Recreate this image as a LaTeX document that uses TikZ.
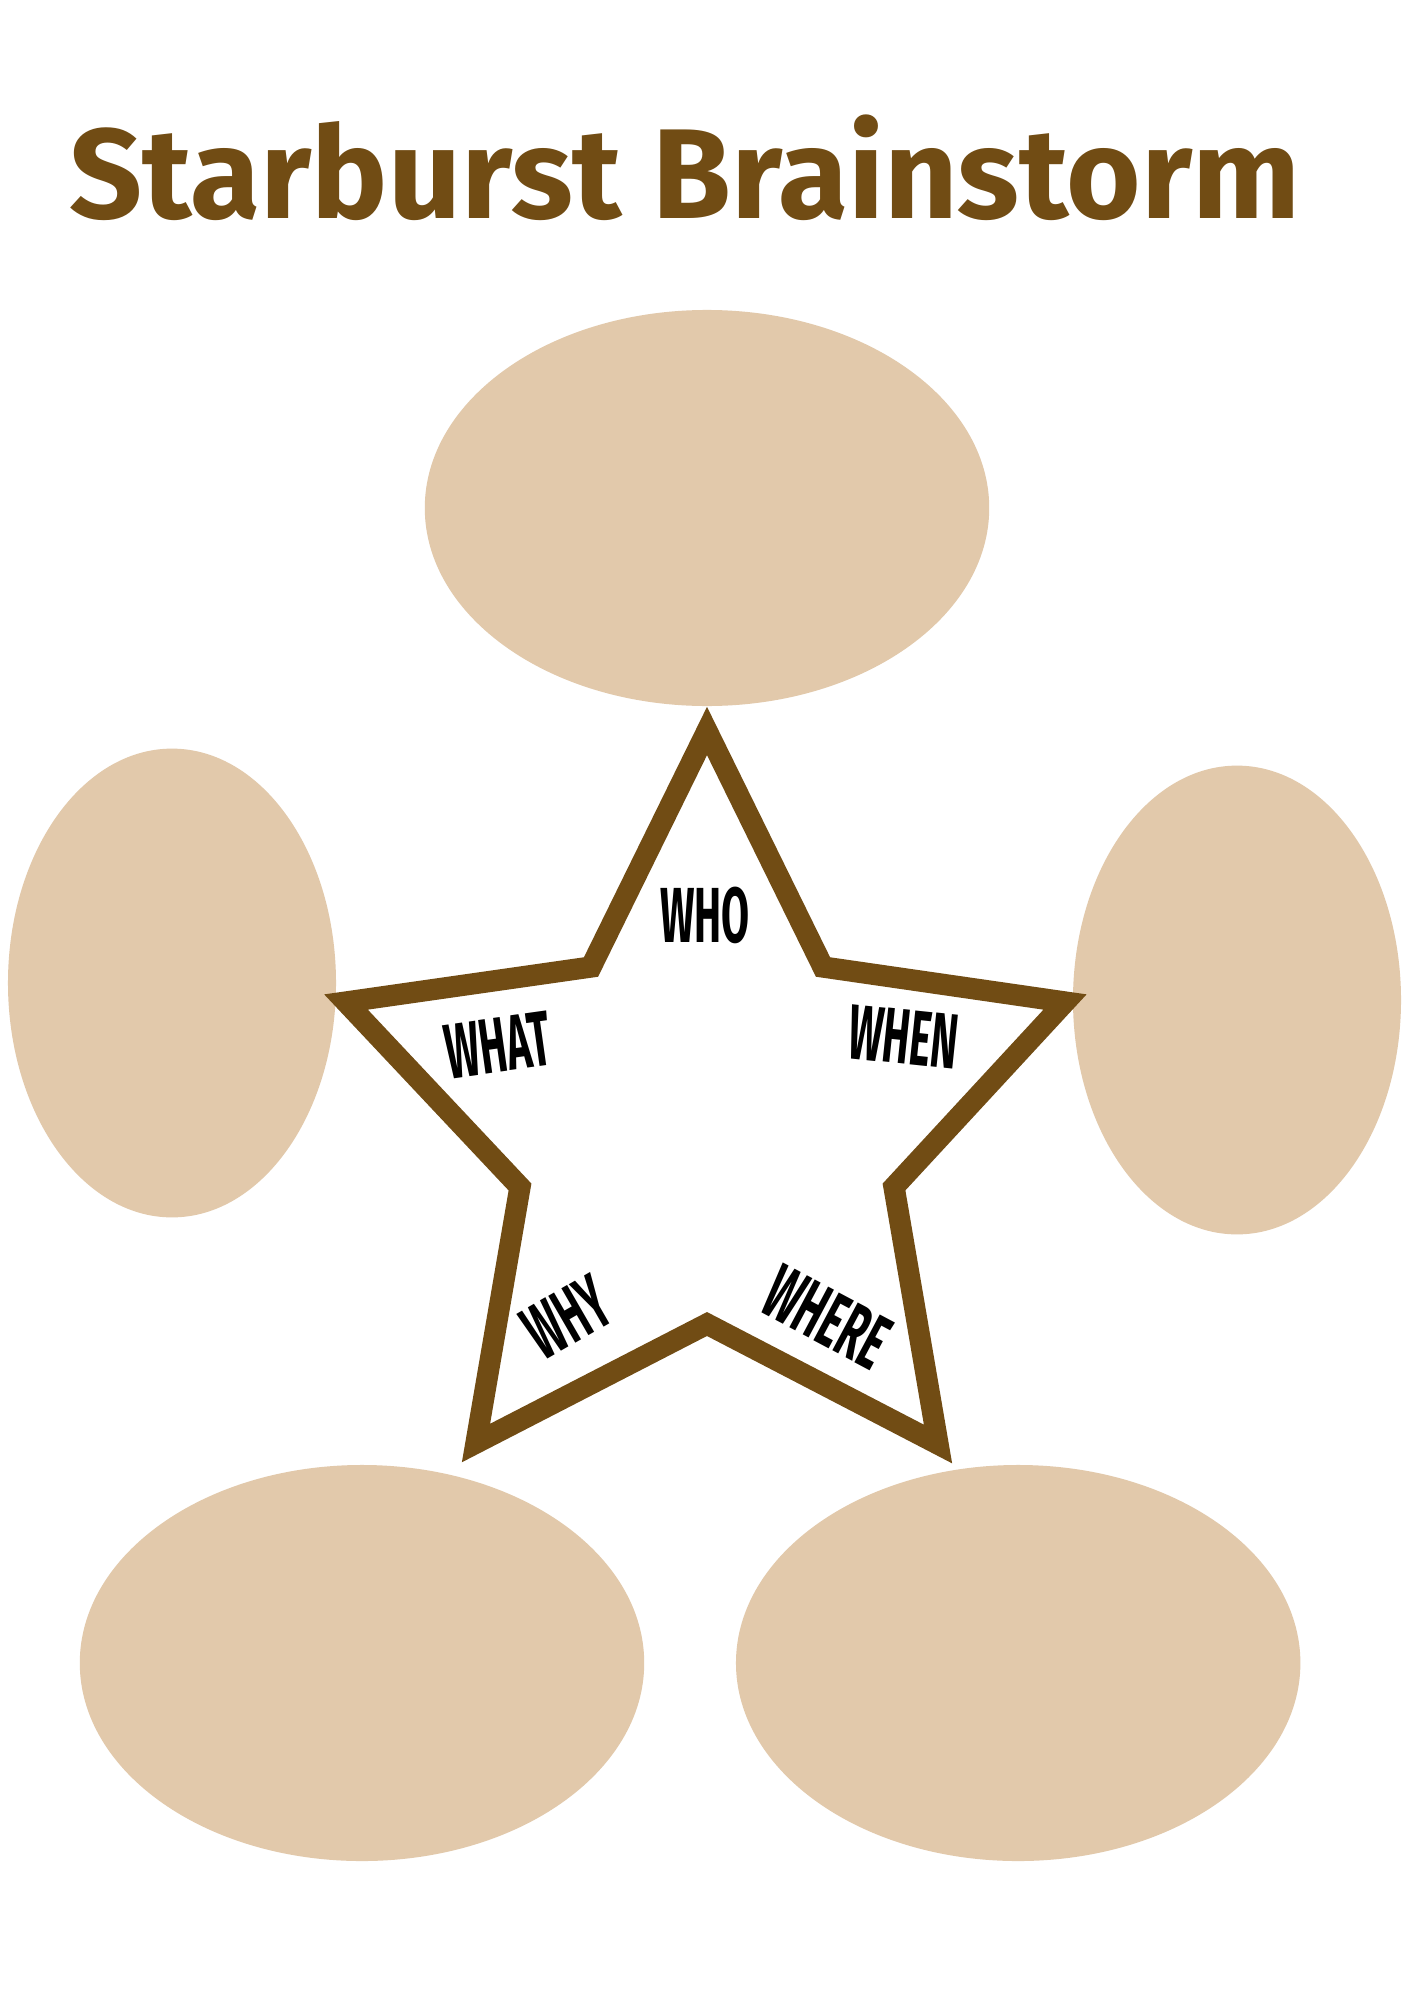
\documentclass[tikz,border=0pt]{standalone}
\usepackage{fontspec}
\usepackage{graphicx}
\setmainfont{Fira Sans}
\usetikzlibrary{shapes.geometric,positioning}
\definecolor{bark}{RGB}{113,76,20}
\definecolor{sand}{RGB}{226,201,171}
\newcommand{\narrowtxt}[1]{\scalebox{0.52}[1]{#1}}

\begin{document}
\begin{tikzpicture}[x=0.014851cm,y=-0.014851cm,node distance=9.742cm,on grid,
  bubble/.style={ellipse,fill=sand,draw=none,inner sep=0pt,outer sep=0pt},
  wide/.style={minimum width=8.38cm,minimum height=5.88cm},
  tall/.style={minimum width=4.87cm,minimum height=6.96cm},
  wlabel/.style={font=\fontsize{33}{33}\selectfont\bfseries,inner sep=0pt}]
  \fill[white] (0,0) rectangle (1414,2000);
  \useasboundingbox (0,0) rectangle (1414,2000);

  \node[anchor=base west,inner sep=0pt,text=bark,
    font=\fontsize{54}{54}\selectfont\bfseries] (title) at (69,219) {Starburst Brainstorm};

  \path
  node[bubble,wide] (who_box)   at (707,508)  {}
  node[bubble,tall] (what_box)  at (172,983)  {}
  node[bubble,tall] (when_box)  at (1237,1000) {}
  node[bubble,wide] (why_box)   at (362,1663) {}
  node[bubble,wide] (where_box) [right=of why_box] {}
  ;

  \draw[bark,line width=9pt,fill=white,line join=miter]
    (707,731) -- (823,967) -- (1065,1002) -- (894,1187) -- (938,1444)
    -- (707,1324) -- (476,1443) -- (520,1187) -- (346,1002) -- (591,967) -- cycle;

  \path
  node[wlabel] (who)   at (705,915)  {\narrowtxt{WHO}}
  node[wlabel,rotate=8]   (what)  at (498,1045) {\narrowtxt{WHAT}}
  node[wlabel,rotate=-6]  (when)  at (904,1037) {\narrowtxt{WHEN}}
  node[wlabel,rotate=30]  (why)   at (567,1317) {\narrowtxt{WHY}}
  node[wlabel,rotate=-28] (where) at (827,1317) {\narrowtxt{WHERE}}
  ;
\end{tikzpicture}
\end{document}
